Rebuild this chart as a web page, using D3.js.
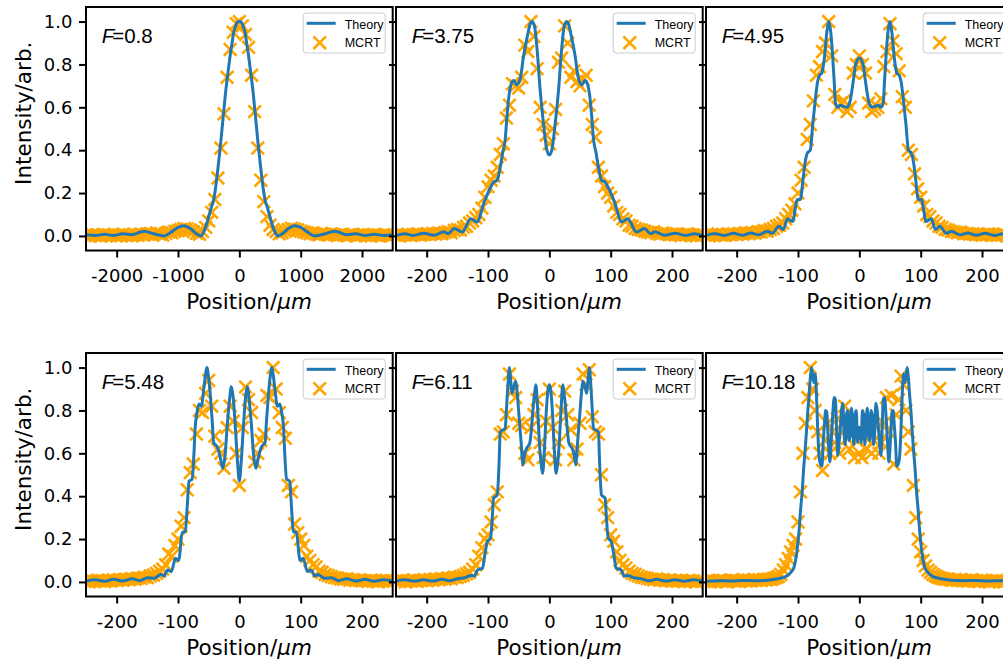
<!DOCTYPE html>
<html><head><meta charset="utf-8">
<script src="https://cdn.jsdelivr.net/npm/d3@7"></script>
<style>body{margin:0;background:#fff}svg{display:block}</style>
</head><body><svg id="c" width="1003" height="664"></svg>
<script>
const fLabels = ["0.8","3.75","4.95","5.48","6.11","10.18"];
const yTicks = [0,0.2,0.4,0.6,0.8,1.0];
const xTicksWide = [-2000,-1000,0,1000,2000];
const xTicksNarrow = [-200,-100,0,100,200];
const xDomainWide = [-2500,2500];
const xDomainNarrow = [-250,250];
const yDomain = [-0.068,1.068];
const legendLabels = ["Theory","MCRT"];
const yLabel = "Intensity/arb.";

const theory1 = [[-2500,0.005],[-2350,0.002],[-2200,0.008],[-2050,0.002],[-1900,0.01],[-1750,0.006],[-1556,0.022],[-1400,0.01],[-1230,0.0],[-1100,0.02],[-1000,0.04],[-905,0.048],[-800,0.035],[-700,0.01],[-623,0.0],[-570,0.025],[-499,0.09],[-460,0.13],[-417,0.17],[-390,0.22],[-363,0.28],[-336,0.35],[-309,0.42],[-282,0.5],[-255,0.58],[-228,0.66],[-200,0.73],[-173,0.79],[-146,0.85],[-119,0.9],[-92,0.95],[-65,0.975],[-38,0.995],[0,1.0],[38,0.995],[65,0.975],[92,0.95],[119,0.9],[146,0.85],[173,0.79],[200,0.73],[228,0.66],[255,0.58],[282,0.5],[309,0.42],[336,0.35],[363,0.28],[390,0.22],[417,0.17],[460,0.13],[499,0.09],[570,0.025],[623,0.0],[700,0.01],[800,0.035],[905,0.048],[1000,0.04],[1100,0.02],[1230,0.0],[1400,0.01],[1556,0.022],[1750,0.006],[1900,0.01],[2050,0.002],[2200,0.008],[2350,0.002],[2500,0.005]];

const theory2 = [[-250,0.002],[-236,0.01],[-222,0.002],[-205,0.012],[-188,0.003],[-172,0.02],[-165,0.01],[-155,0.035],[-142,0.018],[-128,0.08],[-118,0.065],[-106,0.16],[-97,0.22],[-91,0.25],[-85,0.26],[-80,0.32],[-76,0.39],[-72,0.45],[-69,0.56],[-66,0.65],[-62,0.71],[-58,0.725],[-53,0.705],[-47,0.74],[-42,0.84],[-36,0.93],[-31,0.99],[-28,1.0],[-24,0.975],[-20,0.87],[-15,0.68],[-9,0.51],[-4,0.40],[0,0.378],[4,0.40],[9,0.51],[15,0.68],[20,0.87],[24,0.975],[28,1.0],[31,0.99],[36,0.93],[42,0.84],[47,0.74],[53,0.705],[58,0.725],[62,0.71],[66,0.65],[69,0.56],[72,0.45],[76,0.39],[80,0.32],[85,0.26],[91,0.25],[97,0.22],[106,0.16],[118,0.065],[128,0.08],[142,0.018],[155,0.035],[165,0.01],[172,0.02],[188,0.003],[205,0.012],[222,0.002],[236,0.01],[250,0.002]];

const theory3 = [[-250,0.003],[-235,0.01],[-220,0.002],[-205,0.012],[-190,0.003],[-177,0.014],[-164,0.005],[-150,0.022],[-142,0.012],[-131,0.045],[-124,0.03],[-117,0.08],[-109,0.067],[-101,0.17],[-96,0.17],[-92,0.26],[-88,0.35],[-84,0.39],[-80,0.40],[-76,0.52],[-72,0.63],[-68,0.72],[-65,0.75],[-61,0.76],[-57,0.83],[-53,0.95],[-50,1.0],[-47,0.96],[-44,0.86],[-41,0.72],[-39,0.62],[-35,0.6],[-31,0.61],[-26,0.605],[-20,0.60],[-15,0.63],[-10,0.72],[-6,0.8],[0,0.83],[6,0.8],[10,0.72],[15,0.63],[20,0.60],[26,0.605],[31,0.61],[35,0.6],[39,0.62],[41,0.72],[44,0.86],[47,0.96],[50,1.0],[53,0.95],[57,0.83],[61,0.76],[65,0.75],[68,0.72],[72,0.63],[76,0.52],[80,0.40],[84,0.39],[88,0.35],[92,0.26],[96,0.17],[101,0.17],[109,0.067],[117,0.08],[124,0.03],[131,0.045],[142,0.012],[150,0.022],[164,0.005],[177,0.014],[190,0.003],[205,0.012],[220,0.002],[235,0.01],[250,0.003]];

const theory4 = [[-250,0.003],[-235,0.01],[-220,0.003],[-205,0.012],[-190,0.004],[-175,0.015],[-162,0.006],[-150,0.02],[-139,0.017],[-128,0.035],[-123,0.028],[-117,0.056],[-111,0.048],[-104,0.11],[-99,0.10],[-93,0.23],[-88,0.235],[-85,0.35],[-82,0.47],[-77,0.48],[-74,0.6],[-72,0.72],[-69,0.79],[-66,0.83],[-62,0.82],[-58,0.9],[-55,0.97],[-53,1.0],[-50,0.95],[-47,0.86],[-44,0.74],[-42,0.65],[-36,0.63],[-31,0.58],[-27,0.53],[-23,0.6],[-20,0.72],[-16,0.85],[-13,0.91],[-10,0.86],[-6.5,0.72],[-3,0.56],[0,0.47],[3,0.56],[6.5,0.72],[10,0.86],[13,0.91],[16,0.85],[20,0.72],[23,0.6],[27,0.53],[31,0.58],[36,0.63],[42,0.65],[44,0.74],[47,0.86],[50,0.95],[53,1.0],[55,0.97],[58,0.9],[62,0.82],[66,0.83],[69,0.79],[72,0.72],[74,0.6],[77,0.48],[82,0.47],[85,0.35],[88,0.235],[93,0.23],[99,0.10],[104,0.11],[111,0.048],[117,0.056],[123,0.028],[128,0.035],[139,0.017],[150,0.02],[162,0.006],[175,0.015],[190,0.004],[205,0.012],[220,0.003],[235,0.01],[250,0.003]];

const theory5 = [[-250,0.003],[-235,0.01],[-220,0.003],[-205,0.01],[-190,0.004],[-175,0.012],[-162,0.005],[-150,0.015],[-137,0.02],[-128,0.03],[-122,0.028],[-117,0.056],[-109,0.064],[-105,0.13],[-101,0.188],[-96,0.204],[-93,0.3],[-91,0.39],[-85,0.406],[-82,0.55],[-80,0.7],[-72,0.717],[-70,0.8],[-68,0.9],[-65,1.0],[-63,0.94],[-61,0.88],[-58,0.91],[-55,0.935],[-52,0.87],[-50,0.795],[-46,0.65],[-43,0.546],[-40,0.6],[-37,0.624],[-32,0.647],[-29,0.72],[-27,0.795],[-24,0.88],[-22,0.92],[-19,0.8],[-16,0.64],[-13,0.54],[-11,0.507],[-8,0.62],[-5,0.795],[-2,0.9],[0,0.92],[2,0.9],[5,0.795],[8,0.62],[11,0.507],[13,0.54],[16,0.64],[19,0.8],[22,0.92],[24,0.88],[27,0.795],[29,0.72],[32,0.647],[37,0.624],[40,0.6],[43,0.546],[46,0.65],[50,0.795],[52,0.87],[55,0.935],[58,0.91],[61,0.88],[63,0.94],[65,1.0],[68,0.9],[70,0.8],[72,0.717],[80,0.7],[82,0.55],[85,0.406],[91,0.39],[93,0.3],[96,0.204],[101,0.188],[105,0.13],[109,0.064],[117,0.056],[122,0.028],[128,0.03],[137,0.02],[150,0.015],[162,0.005],[175,0.012],[190,0.004],[205,0.01],[220,0.003],[235,0.01],[250,0.003]];

const theory6 = [[-250,0.003],[-230,0.006],[-210,0.004],[-190,0.007],[-170,0.006],[-150,0.008],[-138,0.012],[-128,0.018],[-120,0.025],[-115,0.035],[-110,0.05],[-107,0.065],[-104,0.1],[-101,0.16],[-98,0.25],[-96,0.33],[-93,0.43],[-91,0.52],[-88,0.63],[-86,0.71],[-84,0.8],[-82,0.87],[-80,0.95],[-78,1.0],[-76,0.96],[-74,0.93],[-72,0.97],[-70,0.88],[-68,0.72],[-66,0.6],[-64,0.555],[-61,0.54],[-59,0.65],[-57,0.73],[-55,0.8],[-53,0.79],[-51,0.68],[-48,0.56],[-46,0.65],[-44,0.75],[-41,0.86],[-39,0.85],[-37,0.7],[-35,0.59],[-33,0.65],[-31,0.72],[-29,0.8],[-27,0.834],[-25,0.7],[-23,0.64],[-21,0.78],[-19,0.8],[-17,0.66],[-15,0.68],[-13,0.81],[-11,0.75],[-9,0.64],[-7,0.78],[-5,0.8],[-3,0.65],[-1,0.72],[1,0.72],[3,0.65],[5,0.8],[7,0.78],[9,0.64],[11,0.75],[13,0.81],[15,0.68],[17,0.66],[19,0.8],[21,0.78],[23,0.64],[25,0.7],[27,0.834],[29,0.8],[31,0.72],[33,0.65],[35,0.59],[37,0.7],[39,0.85],[41,0.86],[44,0.75],[46,0.65],[48,0.56],[51,0.68],[53,0.79],[55,0.8],[57,0.73],[59,0.65],[61,0.54],[64,0.555],[66,0.6],[68,0.72],[70,0.88],[72,0.97],[74,0.93],[76,0.96],[78,1.0],[80,0.95],[82,0.87],[84,0.8],[86,0.71],[88,0.63],[91,0.52],[93,0.43],[96,0.33],[98,0.25],[101,0.16],[104,0.1],[107,0.065],[110,0.05],[115,0.035],[120,0.025],[128,0.018],[138,0.012],[150,0.008],[170,0.006],[190,0.007],[210,0.004],[230,0.006],[250,0.003]];

const mcrtXWide = [-2500,-2450,-2400,-2350,-2300,-2250,-2200,-2150,-2100,-2050,-2000,-1950,-1900,-1850,-1800,-1750,-1700,-1650,-1600,-1550,-1500,-1450,-1400,-1350,-1300,-1250,-1200,-1150,-1100,-1050,-1000,-950,-900,-850,-800,-750,-700,-650,-600,-550,-500,-450,-400,-350,-300,-250,-200,-150,-100,-50,0,50,100,150,200,250,300,350,400,450,500,550,600,650,700,750,800,850,900,950,1000,1050,1100,1150,1200,1250,1300,1350,1400,1450,1500,1550,1600,1650,1700,1750,1800,1850,1900,1950,2000,2050,2100,2150,2200,2250,2300,2350,2400,2450,2500];
const mcrtXMid = [-250,-245,-240,-235,-230,-225,-220,-215,-210,-205,-200,-195,-190,-185,-180,-175,-170,-165,-160,-155,-150,-145,-140,-135,-130,-125,-120,-115,-110,-105,-100,-95,-90,-85,-80,-75,-70,-65,-60,-55,-50,-45,-40,-35,-30,-25,-20,-15,-10,-5,0,5,10,15,20,25,30,35,40,45,50,55,60,65,70,75,80,85,90,95,100,105,110,115,120,125,130,135,140,145,150,155,160,165,170,175,180,185,190,195,200,205,210,215,220,225,230,235,240,245,250];
const mcrtXFine = [-248,-244,-240,-236,-232,-228,-224,-220,-216,-212,-208,-204,-200,-196,-192,-188,-184,-180,-176,-172,-168,-164,-160,-156,-152,-148,-144,-140,-136,-132,-128,-124,-120,-116,-112,-108,-104,-100,-96,-92,-88,-84,-80,-76,-72,-68,-64,-60,-56,-52,-48,-44,-40,-36,-32,-28,-24,-20,-16,-12,-8,-4,0,4,8,12,16,20,24,28,32,36,40,44,48,52,56,60,64,68,72,76,80,84,88,92,96,100,104,108,112,116,120,124,128,132,136,140,144,148,152,156,160,164,168,172,176,180,184,188,192,196,200,204,208,212,216,220,224,228,232,236,240,244,248];

const mcrt1Y = [0.004,0.0,0.006,0.002,0.005,0.0,0.007,0.003,0.001,0.006,0.0,0.004,0.008,0.002,0.005,0.0,0.006,0.003,0.009,0.004,0.01,0.012,0.005,0.014,0.008,0.004,0.012,0.018,0.015,0.022,0.025,
0.03,0.035,0.033,0.028,0.02,0.012,0.008,
0.02,0.04,0.07,0.11,0.17,0.27,0.41,0.57,0.74,0.87,0.95,0.99,1.0,0.98,0.94,0.88,0.75,0.58,0.41,0.26,0.16,0.09,0.05,0.03,0.02,
0.01,0.015,0.022,0.03,0.036,0.032,0.028,
0.022,0.018,0.015,0.01,0.014,0.008,0.004,0.012,0.008,0.005,0.01,0.006,0.002,0.007,0.004,0.001,0.005,0.008,0.0,0.004,0.006,0.002,0.005,0.0,0.007,0.003,0.001,0.006,0.004,0.0,0.003];
const mcrt2Y = [0.004,0.0,0.006,0.003,0.008,0.002,0.005,0.009,0.004,0.007,0.01,0.006,0.012,0.008,0.014,0.01,0.016,0.02,0.015,0.025,
0.03,0.028,0.04,0.045,0.06,0.07,0.085,0.1,0.13,0.18,
0.23,0.26,0.28,0.32,0.38,0.43,0.55,0.61,0.71,0.7,
0.69,0.74,0.89,0.86,1.0,0.93,0.78,0.6,0.52,0.47,
0.43,
0.5,0.59,0.81,0.83,0.98,0.9,0.74,0.77,0.72,0.70,
0.73,0.75,0.61,0.52,0.46,0.32,0.28,0.23,0.2,0.18,
0.14,0.11,0.1,0.08,0.07,0.05,0.045,0.035,0.03,0.028,
0.022,0.018,0.015,0.02,0.012,0.008,0.014,0.01,0.006,0.009,0.004,0.008,0.002,0.006,0.01,0.003,0.005,0.0,0.006,0.003];
const mcrt3Y = [0.005,0.0,0.007,0.003,0.009,0.004,0.002,0.008,0.005,0.01,0.006,0.012,0.008,0.015,0.01,0.016,0.012,0.02,0.018,0.025,
0.022,0.03,0.035,0.045,0.05,0.06,0.08,0.1,0.12,0.15,
0.2,0.26,0.32,0.45,0.52,0.63,0.75,0.79,0.86,0.9,
1.0,0.84,0.66,0.6,0.62,0.63,0.58,0.6,0.76,0.8,
0.84,
0.8,0.76,0.62,0.58,0.59,0.6,0.64,0.79,0.86,0.99,
0.91,0.85,0.77,0.65,0.6,0.4,0.38,0.29,0.22,0.18,
0.14,0.1,0.09,0.07,0.06,0.045,0.04,0.03,0.028,0.02,
0.02,0.015,0.018,0.01,0.012,0.008,0.01,0.005,0.008,0.003,0.006,0.01,0.004,0.007,0.002,0.005,0.008,0.0,0.004,0.006];
const mcrt4Y = [0.004,0.0,0.006,0.003,0.008,0.005,0.002,0.007,0.004,0.01,0.006,0.011,0.008,0.013,0.01,0.015,0.012,0.018,0.016,0.022,
0.02,0.028,0.032,0.04,0.05,0.06,0.08,0.13,0.12,0.17,
0.2,0.26,0.3,0.43,0.51,0.55,0.69,0.8,0.79,0.88,
0.94,0.82,0.68,0.62,0.6,0.53,0.72,0.82,0.75,0.6,
0.45,
0.72,0.91,0.85,0.79,0.56,0.6,0.66,0.69,0.87,0.86,
1.0,0.9,0.79,0.72,0.67,0.45,0.42,0.27,0.23,0.2,
0.17,0.12,0.1,0.08,0.07,0.05,0.045,0.035,0.03,0.025,
0.02,0.018,0.014,0.012,0.015,0.008,0.011,0.006,0.009,0.004,0.007,0.003,0.008,0.005,0.001,0.006,0.004,0.008,0.002,0.005];
const mcrt5Y = [0.005,0.002,0.008,0.0,0.006,0.004,0.009,0.003,0.007,0.01,0.005,0.012,0.008,0.014,0.01,0.016,0.012,0.018,0.015,0.022,
0.02,0.026,0.03,0.038,0.045,0.06,0.08,0.12,0.16,0.2,
0.22,0.28,0.36,0.42,0.69,0.7,0.78,0.97,0.89,0.86,
0.74,0.73,0.6,0.57,0.72,0.78,0.85,0.65,0.58,0.75,
0.9,
0.72,0.57,0.65,0.8,0.89,0.78,0.71,0.57,0.62,0.74,
0.97,0.92,0.99,0.77,0.7,0.69,0.5,0.36,0.3,0.22,
0.19,0.14,0.1,0.08,0.065,0.05,0.04,0.035,0.028,0.022,
0.02,0.016,0.013,0.01,0.014,0.008,0.011,0.005,0.009,0.003,0.007,0.004,0.008,0.002,0.006,0.003,0.005,0.0,0.007,0.003];
const mcrt6Y = [0.004,0.0,0.006,0.002,0.005,0.008,0.003,0.006,0.0,0.005,0.009,0.004,0.007,0.002,0.006,0.01,0.004,0.008,0.005,0.011,0.007,0.01,0.006,0.012,0.009,0.014,0.011,0.016,0.02,0.025,
0.035,0.056,0.08,0.11,0.14,0.17,0.2,0.28,0.42,0.6,0.74,0.86,1.0,0.9,0.8,0.7,0.6,0.52,0.66,0.74,0.6,0.7,0.65,0.76,0.6,0.7,0.82,0.67,0.62,0.7,0.58,0.66,0.6,0.58,0.68,0.62,0.7,0.6,0.66,0.72,0.6,0.65,0.74,0.86,0.7,0.87,0.55,0.78,0.85,0.96,0.92,0.8,0.7,0.62,0.45,0.3,0.2,0.14,0.1,0.075,0.055,0.045,0.035,0.028,0.022,
0.018,0.015,0.012,0.014,0.01,0.008,0.011,0.006,0.009,0.005,0.008,0.004,0.007,0.01,0.003,0.006,0.002,0.008,0.004,0.005,0.0,0.006,0.003,0.007,0.002,0.005,0.0,0.004,0.006,0.002];

const panels = [
  {f:fLabels[0], domain:xDomainWide, ticks:xTicksWide, theory:theory1, mx:mcrtXWide, my:mcrt1Y},
  {f:fLabels[1], domain:xDomainNarrow, ticks:xTicksNarrow, theory:theory2, mx:mcrtXMid, my:mcrt2Y},
  {f:fLabels[2], domain:xDomainNarrow, ticks:xTicksNarrow, theory:theory3, mx:mcrtXMid, my:mcrt3Y},
  {f:fLabels[3], domain:xDomainNarrow, ticks:xTicksNarrow, theory:theory4, mx:mcrtXMid, my:mcrt4Y},
  {f:fLabels[4], domain:xDomainNarrow, ticks:xTicksNarrow, theory:theory5, mx:mcrtXMid, my:mcrt5Y},
  {f:fLabels[5], domain:xDomainNarrow, ticks:xTicksNarrow, theory:theory6, mx:mcrtXFine, my:mcrt6Y}
];

const svg = d3.select('#c');
const defs = svg.append('defs');
const colLeft = [86,396,706], rowTop = [7,353], PW = 306.7, PH = 243.5;
const BLUE = '#1f77b4', ORANGE = '#ffa500';
const crossPath = 'M-6.3,-6.3L6.3,6.3M-6.3,6.3L6.3,-6.3';
const fmtX = d => (d < 0 ? '-' + Math.abs(d) : String(d));

panels.forEach((p, i) => {
  const col = i % 3, row = Math.floor(i / 3);
  const g = svg.append('g').attr('transform', `translate(${colLeft[col]},${rowTop[row]})`);
  const x = d3.scaleLinear().domain(p.domain).range([0, PW]);
  const y = d3.scaleLinear().domain(yDomain).range([PH, 0]);
  const cid = 'clip' + i;
  defs.append('clipPath').attr('id', cid).append('rect').attr('x', 0).attr('y', 0).attr('width', PW).attr('height', PH);
  const plot = g.append('g').attr('clip-path', `url(#${cid})`);
  const n = Math.min(p.mx.length, p.my.length);
  const pts = d3.range(n).map(k => [p.mx[k], p.my[k]]);
  plot.append('g').selectAll('path').data(pts).join('path')
    .attr('d', crossPath)
    .attr('transform', d => `translate(${x(d[0])},${y(d[1])})`)
    .attr('fill', 'none').attr('stroke', ORANGE).attr('stroke-width', 2.6);
  plot.append('path').datum(p.theory)
    .attr('d', d3.line().x(d => x(d[0])).y(d => y(d[1])).curve(d3.curveMonotoneX))
    .attr('fill', 'none').attr('stroke', BLUE).attr('stroke-width', 3).attr('stroke-linejoin', 'round');

  // legend
  const lg = g.append('g').attr('transform', `translate(${PW - 89.5},6)`);
  lg.append('rect').attr('width', 82).attr('height', 40).attr('rx', 3)
    .attr('fill', '#fff').attr('fill-opacity', 0.8).attr('stroke', '#cccccc').attr('stroke-width', 1);
  lg.append('line').attr('x1', 3.5).attr('x2', 32.5).attr('y1', 10.3).attr('y2', 10.3)
    .attr('stroke', BLUE).attr('stroke-width', 3);
  lg.append('path').attr('d', crossPath).attr('transform', 'translate(16.5,29.7)')
    .attr('fill', 'none').attr('stroke', ORANGE).attr('stroke-width', 2.6);
  lg.append('text').attr('x', 41.5).attr('y', 15.5).text(legendLabels[0])
    .attr('font-family', 'Liberation Sans, Arial, sans-serif').attr('font-size', 12.5).attr('fill', '#000');
  lg.append('text').attr('x', 41.5).attr('y', 33.7).text(legendLabels[1])
    .attr('font-family', 'Liberation Sans, Arial, sans-serif').attr('font-size', 12.5).attr('fill', '#000');

  // F label
  const ft = g.append('text').attr('x', 15.7).attr('y', 36)
    .attr('font-family', 'Liberation Sans, Arial, sans-serif').attr('font-size', 20.5).attr('fill', '#000');
  ft.append('tspan').attr('font-style', 'italic').text('F');
  ft.append('tspan').attr('dx', -2).text('=' + p.f);

  // spines
  g.append('rect').attr('width', PW).attr('height', PH).attr('fill', 'none')
    .attr('stroke', '#000').attr('stroke-width', 2);

  // axes
  const ya = g.append('g').call(d3.axisLeft(y).tickValues(yTicks).tickSize(7).tickSizeOuter(0).tickPadding(6.5)
      .tickFormat(col === 0 ? d3.format('.1f') : () => ''));
  const xa = g.append('g').attr('transform', `translate(0,${PH})`)
    .call(d3.axisBottom(x).tickValues(p.ticks).tickSize(7).tickSizeOuter(0).tickPadding(11.5).tickFormat(fmtX));
  [ya, xa].forEach(a => {
    a.select('.domain').remove();
    a.selectAll('.tick line').attr('stroke', '#000').attr('stroke-width', 2);
    a.selectAll('.tick text').attr('font-family', 'DejaVu Sans, sans-serif').attr('font-size', 18).attr('fill', '#000');
  });

  // x label
  const xl = g.append('text').attr('x', PW / 2 + 9.7).attr('y', PH + 58)
    .attr('text-anchor', 'middle').attr('font-family', 'DejaVu Sans, sans-serif').attr('font-size', 21.5).attr('fill', '#000');
  xl.append('tspan').text('Position/');
  xl.append('tspan').attr('font-style', 'italic').text('\u03bcm');

  if (col === 0) {
    svg.append('text').attr('transform', `translate(31,${rowTop[row] + 106.3}) rotate(-90)`)
      .attr('text-anchor', 'middle').attr('font-family', 'DejaVu Sans, sans-serif').attr('font-size', 21.5)
      .attr('fill', '#000').text(yLabel);
  }
});
</script></body></html>
